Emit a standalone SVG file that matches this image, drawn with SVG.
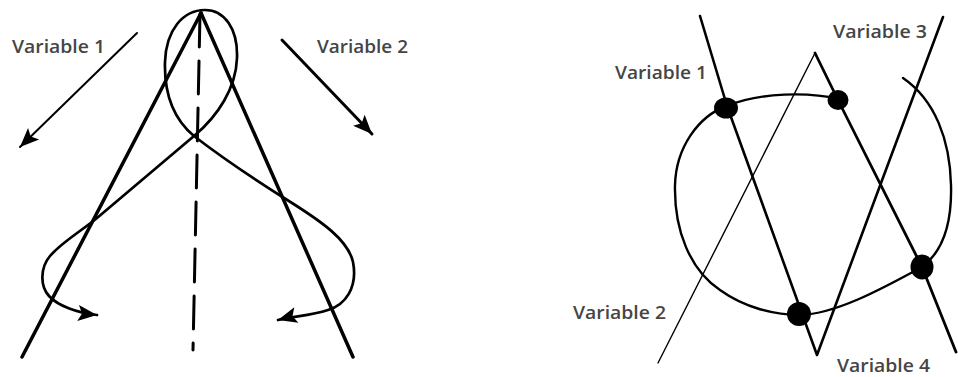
<svg xmlns="http://www.w3.org/2000/svg" width="958" height="377" viewBox="0 0 958 377">
<defs>
<marker id="ah" markerUnits="userSpaceOnUse" markerWidth="26" markerHeight="22" viewBox="-22 -11 26 22" refX="0" refY="0" orient="auto-start-reverse">
<path d="M0,0 L-19,-8 L-15,0 L-19,8 Z" fill="#000"/>
</marker>
</defs>
<style>
.ln{fill:none;stroke:#000;stroke-linecap:round;stroke-linejoin:round}
.lbl{font-family:"Open Sans","Liberation Sans",sans-serif;font-size:18.5px;font-weight:600;fill:#454545}
.dot{fill:#000}
</style>
<rect width="958" height="377" fill="#fff"/>
<g id="left-figure">
<g id="left-lines">
<path class="ln" d="M201,13 L22,357" stroke-width="3.5"/>
<path class="ln" d="M201,13 L353,357" stroke-width="3.5"/>
<path class="ln" d="M200,14 L193,350" stroke-width="3" stroke-dasharray="33,14" stroke-linecap="butt"/>
</g>
<g id="loop-curve">
<path class="ln" stroke-width="2.7" marker-start="url(#ah)" marker-end="url(#ah)" d="M97,315 C78,313 58,306 49,296 C40,286 40,268 50,256 C62,242 80,232 97,218 L194,136 C218,116 236,88 237,58 C238,28 224,10 205,10 C183,10 166,30 165,62 C164,95 175,120 194,136 C225,160 260,183 292,203 C322,222 348,240 353,262 C358,288 345,305 328,310 C310,316 293,316 278,320"/>
</g>
<g id="var1-arrow">
<path class="ln" d="M137,33 L20,147" stroke-width="2" marker-end="url(#ah)"/>
<text class="lbl" x="12" y="53" textLength="93" lengthAdjust="spacingAndGlyphs">Variable 1</text>
</g>
<g id="var2-arrow">
<path class="ln" d="M282,40 L372,134" stroke-width="3" marker-end="url(#ah)"/>
<text class="lbl" x="317" y="53" textLength="91" lengthAdjust="spacingAndGlyphs">Variable 2</text>
</g>
</g>
<g id="right-figure">
<g id="right-lines">
<polyline class="ln" points="700,16 727,106 817,355 881,183 943,17" stroke-width="2.6"/>
<path class="ln" d="M658,363 L815,53" stroke-width="1.4"/>
<polyline class="ln" points="815,53 838,100 922,267 956,352" stroke-width="2.8"/>
</g>
<g id="circle">
<path class="ln" stroke-width="2.4" d="M838,99 C810,92 760,92 727,106 C698,116 676,148 675,185 C674,230 690,270 720,290 C745,308 775,315 800,315 C835,314 880,290 922,267 C945,250 952,220 951,185 C950,140 935,100 903,78"/>
</g>
<g id="dots">
<ellipse class="dot" cx="726" cy="108" rx="12" ry="10.5"/>
<ellipse class="dot" cx="838" cy="100" rx="10.5" ry="10"/>
<ellipse class="dot" cx="922" cy="267" rx="11.5" ry="12.5"/>
<ellipse class="dot" cx="799" cy="314" rx="12" ry="12"/>
</g>
<g id="labels">
<text class="lbl" x="615" y="79" textLength="92" lengthAdjust="spacingAndGlyphs">Variable 1</text>
<text class="lbl" x="833" y="38" textLength="94" lengthAdjust="spacingAndGlyphs">Variable 3</text>
<text class="lbl" x="573" y="319" textLength="93" lengthAdjust="spacingAndGlyphs">Variable 2</text>
<text class="lbl" x="837" y="372" textLength="93" lengthAdjust="spacingAndGlyphs">Variable 4</text>
</g>
</g>
</svg>
